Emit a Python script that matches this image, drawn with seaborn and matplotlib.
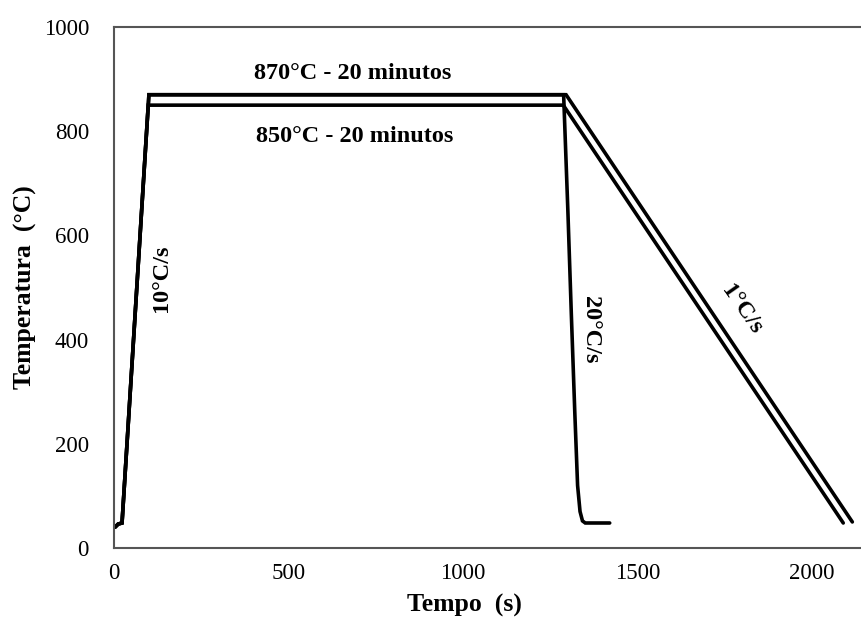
import matplotlib
matplotlib.use("Agg")
import matplotlib.pyplot as plt
import seaborn as sns
import pandas as pd

# Curve data (time in s, temperature in °C)
t_870_slow = [3, 12, 23, 100, 1295, 2115]
T_870_slow = [40, 46, 48, 870, 870, 50]

t_850_slow = [3, 12, 23, 98, 1287, 2089]
T_850_slow = [40, 46, 48, 850, 850, 48]

t_fast = [3, 12, 23, 100, 1288, 1300, 1310, 1320, 1328, 1335, 1342, 1350, 1420]
T_fast = [40, 46, 48, 870, 870, 650, 450, 260, 120, 70, 52, 48, 48]

x_ticks = [0, 500, 1000, 1500, 2000]
y_ticks = [0, 200, 400, 600, 800, 1000]

sns.set_style("white")
plt.rcParams['font.family'] = ['Liberation Serif', 'DejaVu Serif']
plt.rcParams['text.color'] = 'black'
plt.rcParams['axes.labelcolor'] = 'black'
plt.rcParams['xtick.color'] = 'black'
plt.rcParams['ytick.color'] = 'black'

W, H = 861, 621
fig = plt.figure(figsize=(W / 100, H / 100), dpi=100)
left, bottom, top = 114, 548, 27
ax_w = 768
ax = fig.add_axes([left / W, (H - bottom) / H, ax_w / W, (bottom - top) / H])

for t, T in [(t_870_slow, T_870_slow), (t_850_slow, T_850_slow), (t_fast, T_fast)]:
    df = pd.DataFrame({"t": t, "T": T})
    sns.lineplot(data=df, x="t", y="T", sort=False, color="black", lw=2.6,
                 ax=ax, solid_joinstyle="miter")

ax.set_xlim(0, 2200)
ax.set_ylim(0, 1000)
ax.set_xticks(x_ticks)
ax.set_yticks(y_ticks)
ax.tick_params(axis="x", length=0, labelsize=16.5, pad=11)
ax.tick_params(axis="y", length=0, labelsize=16.5, pad=18)
for s in ax.spines.values():
    s.set_color("#555555")
    s.set_linewidth(1.5)

ax.set_xlabel("Tempo  (s)", fontsize=18.5, fontweight="bold", va="center")
ax.set_ylabel("Temperatura  (°C)", fontsize=18.5, fontweight="bold", va="center")
ax.xaxis.set_label_coords((464 - left) / ax_w, (bottom - 605) / (bottom - top))
ax.yaxis.set_label_coords((25 - left) / ax_w, 0.5)

kw = dict(fontsize=17.5, fontweight="bold", ha="center", va="center")
ax.text(685, 910, "870°C - 20 minutos", **kw)
ax.text(690, 789, "850°C - 20 minutos", **kw)
ax.text(137, 518, "10°C/s", rotation=90, **kw)
ax.text(1364, 418, "20°C/s", rotation=-90, **kw)
ax.text(1797, 457, "1°C/s", rotation=-55, **kw)

fig.savefig("out.png", dpi=100)
